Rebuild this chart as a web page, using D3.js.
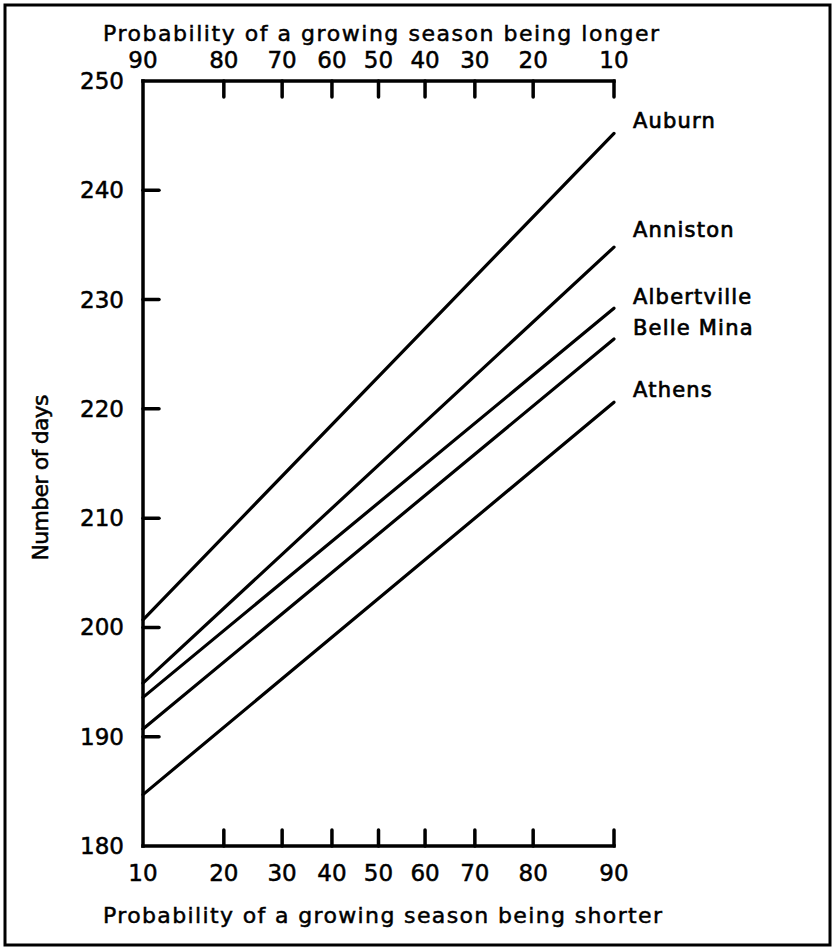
<!DOCTYPE html>
<html>
<head>
<meta charset="utf-8">
<script src="https://cdn.jsdelivr.net/npm/d3@7"></script>
<style>
  html, body { margin: 0; padding: 0; background: #fff; }
  svg { display: block; }
  text { font-family: "DejaVu Sans", sans-serif; fill: #000; stroke: #000; stroke-width: 0.5px; }
</style>
</head>
<body>
<svg id="chart" width="833" height="948"></svg>
<script>
// ---- data ----
const stations = ["Auburn", "Anniston", "Albertville", "Belle Mina", "Athens"];
const daysAt10 = [200.7, 194.9, 193.6, 190.7, 184.7];   // days at 10% probability (shorter)
const daysAt90 = [245.2, 234.8, 229.2, 226.4, 220.6];   // days at 90% probability (shorter)
const labelDays = [246.3, 236.4, 230.2, 227.4, 221.7];  // label anchor (days)
const probShorter = [10, 20, 30, 40, 50, 60, 70, 80, 90];
const probLonger = [90, 80, 70, 60, 50, 40, 30, 20, 10];
const dayTicks = [180, 190, 200, 210, 220, 230, 240, 250];
const titleTop = "Probability of a growing season being longer";
const titleBottom = "Probability of a growing season being shorter";
const titleY = "Number of days";

// inverse normal CDF (Acklam) for probability scale
function probit(p) {
  const a = [-3.969683028665376e+01, 2.209460984245205e+02, -2.759285104469687e+02, 1.383577518672690e+02, -3.066479806614716e+01, 2.506628277459239e+00];
  const b = [-5.447609879822406e+01, 1.615858368580409e+02, -1.556989798598866e+02, 6.680131188771972e+01, -1.328068155288572e+01];
  const c = [-7.784894002430293e-03, -3.223964580411365e-01, -2.400758277161838e+00, -2.549732539343734e+00, 4.374664141464968e+00, 2.938163982698783e+00];
  const d = [7.784695709041462e-03, 3.224671290700398e-01, 2.445134137142996e+00, 3.754408661907416e+00];
  const pl = 0.02425, ph = 1 - pl;
  let q, r;
  if (p < pl) {
    q = Math.sqrt(-2 * Math.log(p));
    return (((((c[0]*q+c[1])*q+c[2])*q+c[3])*q+c[4])*q+c[5]) / ((((d[0]*q+d[1])*q+d[2])*q+d[3])*q+1);
  } else if (p <= ph) {
    q = p - 0.5; r = q * q;
    return (((((a[0]*r+a[1])*r+a[2])*r+a[3])*r+a[4])*r+a[5])*q / (((((b[0]*r+b[1])*r+b[2])*r+b[3])*r+b[4])*r+1);
  } else {
    q = Math.sqrt(-2 * Math.log(1 - p));
    return -(((((c[0]*q+c[1])*q+c[2])*q+c[3])*q+c[4])*q+c[5]) / ((((d[0]*q+d[1])*q+d[2])*q+d[3])*q+1);
  }
}

const svg = d3.select("#chart");
const L = 143, R = 614, T = 81, B = 846;

const z = d3.scaleLinear().domain([probit(0.10), probit(0.90)]).range([L, R]);
const xS = p => z(probit(p / 100));           // shorter-probability position
const xL = p => z(probit((100 - p) / 100));    // longer-probability position
const y = d3.scaleLinear().domain([180, 250]).range([B, T]);

// frame
svg.append("rect").attr("x", 5).attr("y", 5).attr("width", 825).attr("height", 940)
  .attr("fill", "none").attr("stroke", "#000").attr("stroke-width", 3);

const axisW = 3.5, tickLen = 16;
const g = svg.append("g").attr("stroke", "#000").attr("stroke-width", axisW).attr("fill", "none")
  .attr("stroke-linecap", "round");

// left axis line + top + bottom lines
g.append("line").attr("x1", L).attr("x2", L).attr("y1", y(250)).attr("y2", y(180)).attr("stroke-linecap", "square");
g.append("line").attr("x1", L).attr("x2", R).attr("y1", y(250)).attr("y2", y(250)).attr("stroke-linecap", "square");
g.append("line").attr("x1", L).attr("x2", R).attr("y1", y(180)).attr("y2", y(180)).attr("stroke-linecap", "square");

// left ticks (inward)
g.selectAll(".yt").data(dayTicks.filter(d => d > 180 && d < 250)).join("line")
  .attr("x1", L).attr("x2", L + tickLen).attr("y1", d => y(d)).attr("y2", d => y(d));
// top ticks (downward)
g.selectAll(".tt").data(probLonger.filter(p => p !== 90)).join("line")
  .attr("x1", d => xL(d)).attr("x2", d => xL(d)).attr("y1", y(250)).attr("y2", y(250) + tickLen);
// bottom ticks (upward)
g.selectAll(".bt").data(probShorter.filter(p => p !== 10)).join("line")
  .attr("x1", d => xS(d)).attr("x2", d => xS(d)).attr("y1", y(180)).attr("y2", y(180) - tickLen);

// tick labels
const fs = 23;
svg.selectAll(".ylab").data(dayTicks).join("text")
  .attr("x", 124).attr("y", d => y(d)).attr("text-anchor", "end")
  .attr("dominant-baseline", "central").attr("font-size", fs).text(d => d);
svg.selectAll(".tlab").data(probLonger).join("text")
  .attr("x", d => xL(d)).attr("y", 60).attr("text-anchor", "middle")
  .attr("dominant-baseline", "central").attr("font-size", fs).text(d => d);
svg.selectAll(".blab").data(probShorter).join("text")
  .attr("x", d => xS(d)).attr("y", 873).attr("text-anchor", "middle")
  .attr("dominant-baseline", "central").attr("font-size", fs).text(d => d);

// titles
svg.append("text").attr("x", 103).attr("y", 33).attr("dominant-baseline", "central")
  .attr("font-size", 22).attr("textLength", 556).attr("lengthAdjust", "spacing").text(titleTop);
svg.append("text").attr("x", 103).attr("y", 915).attr("dominant-baseline", "central")
  .attr("font-size", 22).attr("textLength", 559).attr("lengthAdjust", "spacing").text(titleBottom);
svg.append("text").attr("transform", `translate(40,${(395 + 560) / 2}) rotate(-90)`)
  .attr("text-anchor", "middle").attr("dominant-baseline", "central")
  .attr("font-size", 22).attr("textLength", 166).attr("lengthAdjust", "spacing").text(titleY);

// station lines
const lineData = stations.map((s, i) => ({ name: s, pts: [[10, daysAt10[i]], [90, daysAt90[i]]], lab: labelDays[i] }));
const line = d3.line().x(d => xS(d[0])).y(d => y(d[1]));
svg.selectAll(".st").data(lineData).join("path")
  .attr("d", d => line(d.pts)).attr("fill", "none").attr("stroke", "#000")
  .attr("stroke-width", 3.2).attr("stroke-linecap", "round");
svg.selectAll(".sl").data(lineData).join("text")
  .attr("x", 633).attr("y", d => y(d.lab)).attr("dominant-baseline", "central")
  .attr("font-size", 21).attr("letter-spacing", 1.2).style("stroke-width", "0.7px").text(d => d.name);
</script>
</body>
</html>
